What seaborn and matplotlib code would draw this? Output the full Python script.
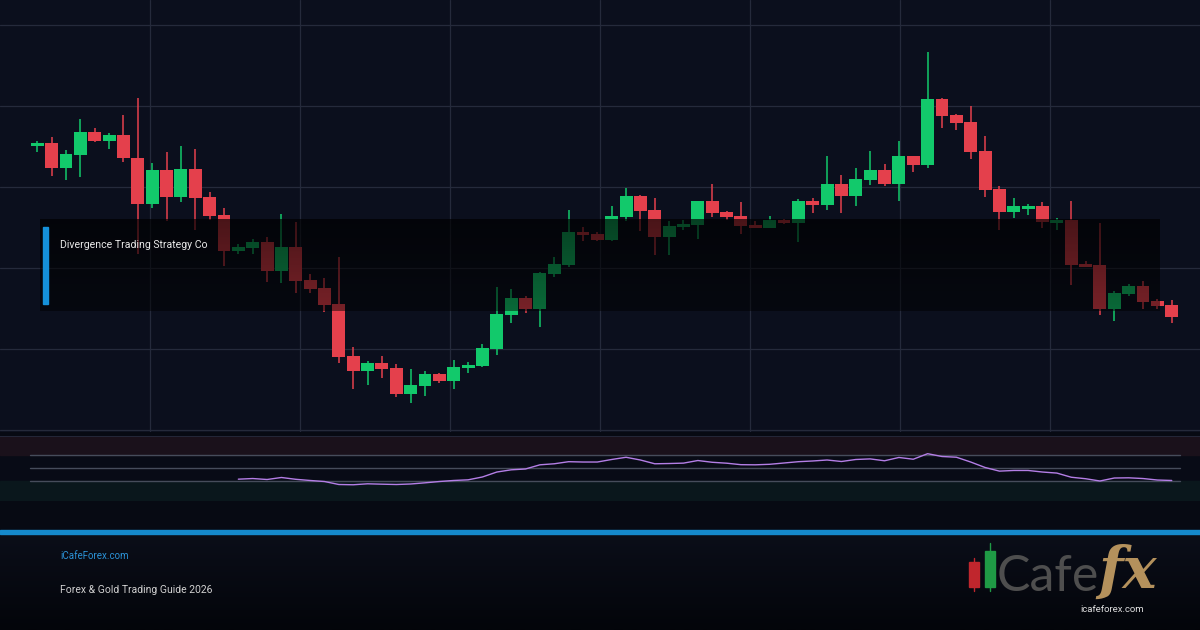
import numpy as np
import pandas as pd
import seaborn as sns
import matplotlib.pyplot as plt
from matplotlib.patches import Rectangle
from matplotlib.colors import LinearSegmentedColormap

# candle data
opens = [2142.2, 2143.4, 2131.2, 2137.7, 2148.9, 2144.7, 2147.5, 2135.9, 2112.9, 2129.9,
         2116.5, 2130.4, 2116.4, 2107.5, 2089.7, 2091.0, 2093.9, 2079.7, 2091.4, 2075.0,
         2070.9, 2062.9, 2037.0, 2029.7, 2033.4, 2030.9, 2018.0, 2022.0, 2028.0, 2024.5,
         2031.2, 2032.0, 2040.5, 2057.5, 2066.0, 2060.7, 2078.0, 2082.5, 2099.0, 2097.9,
         2095.0, 2106.5, 2117.0, 2110.0, 2096.7, 2101.7, 2102.5, 2114.5, 2109.0, 2107.0,
         2102.5, 2101.2, 2105.0, 2103.7, 2114.5, 2112.5, 2123.0, 2117.0, 2125.0, 2130.0,
         2123.0, 2137.0, 2132.5, 2165.5, 2157.5, 2154.0, 2139.5, 2120.5, 2109.0, 2110.5,
         2112.0, 2103.7, 2105.0, 2083.0, 2082.5, 2060.5, 2068.0, 2072.0, 2064.5, 2062.5]
highs = [2144.5, 2146.4, 2139.9, 2155.5, 2150.9, 2148.4, 2157.5, 2165.9, 2133.4, 2138.9,
         2141.9, 2140.5, 2118.9, 2110.9, 2093.0, 2095.5, 2096.4, 2108.0, 2104.2, 2078.0,
         2075.9, 2086.4, 2041.4, 2034.7, 2037.0, 2032.9, 2030.4, 2029.4, 2028.7, 2034.9,
         2033.9, 2043.0, 2071.5, 2070.5, 2067.0, 2078.9, 2086.4, 2110.0, 2101.7, 2099.0,
         2112.0, 2120.9, 2117.7, 2115.9, 2104.5, 2104.9, 2114.5, 2123.0, 2109.7, 2114.0,
         2104.7, 2107.0, 2105.4, 2115.4, 2115.9, 2137.0, 2127.5, 2130.9, 2139.5, 2133.0,
         2144.5, 2137.0, 2188.9, 2166.2, 2158.0, 2162.0, 2147.0, 2122.2, 2115.9, 2112.9,
         2113.9, 2105.9, 2114.5, 2084.7, 2103.7, 2069.7, 2073.0, 2074.5, 2065.5, 2065.0]
lows = [2139.2, 2127.2, 2125.2, 2126.7, 2144.2, 2140.4, 2134.2, 2087.9, 2110.9, 2104.5,
        2114.2, 2099.9, 2104.9, 2082.0, 2087.9, 2087.9, 2074.2, 2073.7, 2068.7, 2068.4,
        2059.2, 2033.7, 2020.5, 2022.5, 2026.2, 2016.7, 2013.7, 2017.2, 2023.7, 2020.5,
        2028.7, 2031.7, 2037.7, 2053.5, 2058.7, 2051.7, 2076.7, 2081.7, 2094.5, 2094.5,
        2094.7, 2104.5, 2099.7, 2087.5, 2087.5, 2100.0, 2095.5, 2106.7, 2105.0, 2098.0,
        2100.9, 2100.9, 2103.0, 2094.2, 2108.4, 2110.0, 2108.7, 2112.0, 2122.5, 2122.0,
        2114.7, 2129.2, 2131.2, 2151.2, 2150.0, 2135.4, 2116.4, 2100.0, 2106.2, 2107.5,
        2101.2, 2100.0, 2072.5, 2081.4, 2057.5, 2054.5, 2067.0, 2060.5, 2060.5, 2053.7]
closes = [2143.4, 2131.2, 2137.9, 2148.9, 2144.7, 2147.5, 2135.9, 2112.9, 2129.9, 2116.5,
          2130.4, 2116.2, 2107.2, 2089.7, 2091.4, 2093.9, 2079.7, 2091.4, 2074.7, 2070.7,
          2062.5, 2036.7, 2029.7, 2033.4, 2030.5, 2018.0, 2022.4, 2028.0, 2024.5, 2031.4,
          2032.5, 2041.0, 2058.0, 2066.0, 2060.7, 2078.5, 2083.0, 2099.0, 2097.5, 2095.0,
          2107.0, 2117.0, 2109.5, 2096.7, 2102.0, 2103.0, 2114.5, 2108.7, 2106.7, 2102.0,
          2101.0, 2105.0, 2103.7, 2114.5, 2112.5, 2123.0, 2117.0, 2125.4, 2130.0, 2123.0,
          2137.0, 2132.5, 2165.5, 2157.0, 2153.7, 2139.0, 2120.0, 2109.0, 2112.0, 2112.0,
          2104.2, 2105.0, 2082.5, 2081.7, 2060.5, 2068.4, 2072.0, 2064.2, 2062.2, 2056.7]

# RSI values, starting at candle 14
rsi_start = 14
rsi = [32.8, 33.8, 32.3, 35.4, 32.6, 30.8, 29.2, 24.6, 24.2, 25.7,
       25.1, 24.6, 25.4, 27.2, 29.2, 30.8, 31.8, 36.2, 43.8, 47.2,
       48.5, 54.9, 56.5, 59.7, 59.2, 59.2, 63.1, 66.5, 62.3, 56.5,
       56.9, 57.5, 61.5, 58.8, 57.4, 55.1, 54.9, 55.7, 57.7, 59.7,
       60.8, 62.3, 60.0, 63.1, 64.0, 61.1, 66.2, 63.5, 72.0, 67.7,
       66.6, 59.2, 50.8, 45.2, 46.2, 46.2, 43.8, 42.2, 35.8, 33.5,
       30.0, 34.6, 34.9, 33.8, 31.5, 30.8]

title = "Divergence Trading Strategy Co"
site = "iCafeForex.com"
subtitle = "Forex & Gold Trading Guide 2026"

df = pd.DataFrame({'open': opens, 'high': highs, 'low': lows, 'close': closes})
df['idx'] = np.arange(len(df))
df['up'] = df['close'] >= df['open']
green = '#12c96b'
red = '#e4404c'
df['color'] = np.where(df['up'], green, red)

rsi_df = pd.DataFrame({'idx': np.arange(rsi_start, rsi_start + len(rsi)), 'rsi': rsi})

sns.set_theme(style='dark')
plt.rcParams['font.family'] = ['Roboto', 'DejaVu Sans']
plt.rcParams['axes.edgecolor'] = 'none'

W, H = 1200, 630
fig = plt.figure(figsize=(12, 6.3), dpi=100, facecolor='#070a13')

# x mapping: first candle centre at 37.3 px, 14.36 px per candle
step = 14.36
first = 37.3
xlim = (-first / step, (W - first) / step)

# main price panel
ax = fig.add_axes([0, 1 - 432 / H, 1, 432 / H])
ax.set_facecolor('#0b0f1d')
for gx in np.arange(150, 1200, 150) / W:
    ax.plot([gx, gx], [0, 1], transform=ax.transAxes, color='#252a3b', lw=0.9, zorder=1)
for gy in [2000, 2040.5, 2081, 2121.5, 2162, 2202.5]:
    ax.axhline(gy, color='#252a3b', lw=0.9, zorder=1)

ax.vlines(df['idx'], df['low'], df['high'], colors=df['color'], lw=1.1, zorder=3)
body_bottom = df[['open', 'close']].min(axis=1)
body_h = (df['close'] - df['open']).abs()
ax.bar(df['idx'], body_h, bottom=body_bottom, width=0.9, color=df['color'], zorder=4, linewidth=0)

# dark title box over the chart
grad = np.zeros((50, 2, 4))
grad[:, :, 3] = np.linspace(0.68, 0.48, 50)[:, None]
ax.imshow(grad, extent=[40 / W, 1160 / W, (432 - 311) / 432, (432 - 219) / 432],
          transform=ax.transAxes, aspect='auto', zorder=6, interpolation='bilinear')
ax.set_xlim(*xlim)
ax.set_ylim(1999, 2215)
ax.set_xticks([])
ax.set_yticks([])

fig.add_artist(Rectangle((43 / W, 1 - 304 / H), 5 / W, 77 / H, transform=fig.transFigure,
                         color='#1590d8', zorder=10))
fig.text(60 / W, 1 - 245 / H, title, va='center', ha='left', fontsize=7.6, color='#e8e8e8', zorder=11)

# RSI panel
ax2 = fig.add_axes([0, 1 - 500.5 / H, 1, 65 / H])
ax2.set_facecolor('#080b16')
ax2.axhspan(70, 100, color='#1a111b', zorder=0)
ax2.axhspan(0, 30, color='#0a171c', zorder=0)
for lvl in [70, 50, 30]:
    ax2.axhline(lvl, xmin=30 / W, xmax=1180 / W, color='#464c5b', lw=1, zorder=1)
ax2.axhline(100, color='#262b3d', lw=1.2, zorder=1)
sns.lineplot(data=rsi_df, x='idx', y='rsi', ax=ax2, color='#b47ee6', lw=1, zorder=3)
ax2.set_xlim(*xlim)
ax2.set_ylim(0, 100)
ax2.set_xticks([])
ax2.set_yticks([])
ax2.set_xlabel('')
ax2.set_ylabel('')

# footer
fax = fig.add_axes([0, 0, 1, 96 / H])
fgrad = np.linspace(0, 1, 60)[:, None]
cmap = LinearSegmentedColormap.from_list('foot', ['#0b0e19', '#03050a'])
fax.imshow(fgrad, aspect='auto', cmap=cmap, extent=[0, 1, 0, 1], origin='upper')
fax.set_axis_off()

fig.add_artist(Rectangle((0, 1 - 534 / H), 1, 4 / H, transform=fig.transFigure,
                         color='#1589cc', zorder=10))
fig.text(60 / W, 1 - 556 / H, site, va='center', ha='left', fontsize=7, color='#2b92d6', zorder=11)
fig.text(60 / W, 1 - 590 / H, subtitle, va='center', ha='left', fontsize=7.5, color='#d0d0d0', zorder=11)

# logo
fig.add_artist(Rectangle((969 / W, 1 - 587 / H), 10 / W, 25 / H, transform=fig.transFigure,
                         color='#c0262d', zorder=10))
fig.add_artist(plt.Line2D([974 / W, 974 / W], [1 - 591 / H, 1 - 558 / H], transform=fig.transFigure,
                          color='#c0262d', lw=1, zorder=10))
fig.add_artist(Rectangle((985 / W, 1 - 587 / H), 10 / W, 36 / H, transform=fig.transFigure,
                         color='#1f9a45', zorder=10))
fig.add_artist(plt.Line2D([990 / W, 990 / W], [1 - 591 / H, 1 - 543 / H], transform=fig.transFigure,
                          color='#1f9a45', lw=1, zorder=10))
fig.text(997 / W, 1 - 591 / H, 'Cafe', va='baseline', ha='left', fontsize=36, color='#4e4e4e',
         family=['Lato', 'DejaVu Sans'], weight='normal', zorder=11)
fig.text(1098 / W, 1 - 588 / H, 'fx', va='baseline', ha='left', fontsize=41, color='#b4915c',
         family=['DejaVu Serif'], style='italic', weight='bold', zorder=12)
fig.text(1112 / W, 1 - 610 / H, 'icafeforex.com', va='center', ha='center', fontsize=6.8,
         color='#e0e0e0', zorder=13)

fig.savefig('out.png', dpi=100, facecolor=fig.get_facecolor())
